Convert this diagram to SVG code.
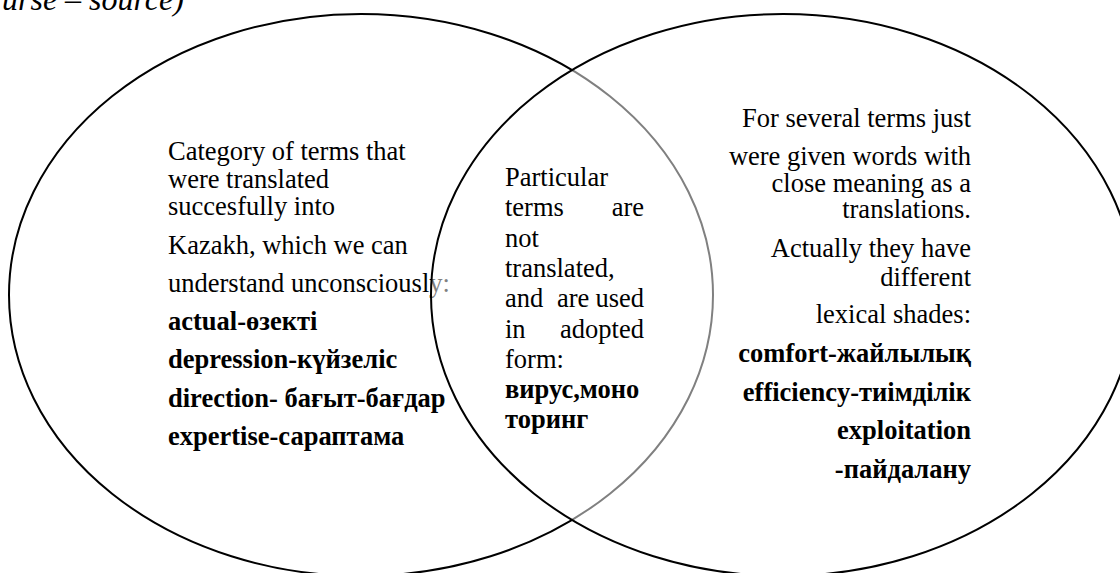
<svg xmlns="http://www.w3.org/2000/svg" width="1120" height="573" viewBox="0 0 1120 573">
<style>
text{font-family:"Liberation Serif","Times New Roman",serif;font-size:26.5px;fill:#000}
.b{font-weight:bold}
.r{text-anchor:end}
.ring{stroke:#000;stroke-width:2}
</style>
<rect width="1120" height="573" fill="#fff"/>
<text x="2" y="10" style="font-style:italic;font-size:32px">urse – source)</text>
<g id="left-set">
<ellipse class="ring" cx="361" cy="295" rx="352" ry="281" fill="none"/>
<text x="168" y="160">Category of terms that</text>
<text x="168" y="188">were translated</text>
<text x="168" y="215">succesfully into</text>
<text x="168" y="254">Kazakh, which we can</text>
<text x="168" y="292">understand unconsciously:</text>
<text class="b" x="168" y="330">actual-өзекті</text>
<text class="b" x="168" y="368">depression-күйзеліс</text>
<text class="b" x="168" y="407">direction- бағыт-бағдар</text>
<text class="b" x="168" y="445">expertise-сараптама</text>
</g>
<g id="right-set">
<ellipse class="ring" cx="783" cy="295" rx="352" ry="281" fill="#fff" fill-opacity="0.5"/>
<text class="r" x="971" y="127">For several terms just</text>
<text class="r" x="971" y="165">were given words with</text>
<text class="r" x="971" y="192">close meaning as a</text>
<text class="r" x="971" y="218">translations.</text>
<text class="r" x="971" y="257">Actually they have</text>
<text class="r" x="971" y="286">different</text>
<text class="r" x="971" y="323">lexical shades:</text>
<text class="b r" x="971" y="362">comfort-жайлылық</text>
<text class="b r" x="971" y="401">efficiency-тиімділік</text>
<text class="b r" x="971" y="439">exploitation</text>
<text class="b r" x="971" y="478">-пайдалану</text>
</g>
<g id="overlap">
<text x="505" y="186">Particular</text>
<text x="505" y="216">terms</text>
<text class="r" x="644" y="216">are</text>
<text x="505" y="247">not</text>
<text x="505" y="277">translated,</text>
<text x="505" y="307">and</text>
<text x="557" y="307">are</text>
<text class="r" x="644" y="307">used</text>
<text x="505" y="338">in</text>
<text class="r" x="644" y="338">adopted</text>
<text x="505" y="368">form:</text>
<text class="b" x="505" y="398">вирус,моно</text>
<text class="b" x="505" y="428">торинг</text>
</g>
<g id="connectors"/>
</svg>
